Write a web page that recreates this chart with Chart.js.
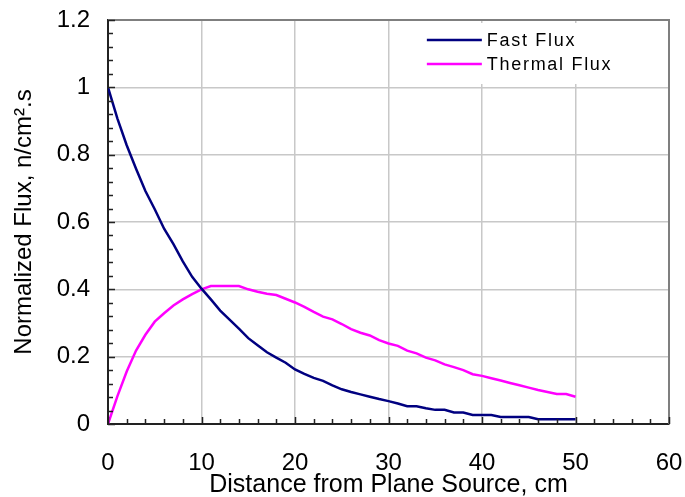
<!DOCTYPE html>
<html><head><meta charset="utf-8">
<script src="https://cdn.jsdelivr.net/npm/chart.js@4"></script>
<style>html,body{margin:0;padding:0;background:#fff}#wrap{width:685px;height:497px;position:relative}</style>
</head><body><div id="wrap"><canvas id="c" width="685" height="497"></canvas></div>
<script>
// ---- data ----
const distanceCm = [0,1,2,3,4,5,6,7,8,9,10,11,12,13,14,15,16,17,18,19,20,21,22,23,24,25,26,27,28,29,30,31,32,33,34,35,36,37,38,39,40,41,42,43,44,45,46,47,48,49,50];
const fastFlux = [1.0,0.908,0.828,0.758,0.692,0.638,0.58,0.534,0.483,0.437,0.402,0.37,0.337,0.31,0.283,0.255,0.234,0.213,0.197,0.182,0.162,0.149,0.137,0.128,0.115,0.103,0.095,0.088,0.081,0.074,0.068,0.061,0.053,0.053,0.047,0.042,0.042,0.034,0.034,0.027,0.027,0.027,0.021,0.021,0.021,0.021,0.014,0.014,0.014,0.014,0.014];
const thermalFlux = [0,0.082,0.156,0.218,0.265,0.304,0.329,0.352,0.37,0.386,0.40,0.41,0.41,0.41,0.41,0.40,0.393,0.387,0.383,0.372,0.361,0.348,0.333,0.319,0.311,0.297,0.282,0.271,0.263,0.249,0.239,0.232,0.218,0.21,0.197,0.189,0.177,0.169,0.16,0.148,0.143,0.136,0.129,0.122,0.115,0.108,0.101,0.095,0.089,0.089,0.081];
const xTickValues = [0,10,20,30,40,50,60];
const yTickValues = [0,0.2,0.4,0.6,0.8,1.0,1.2];
const xMinorStep = 2;
const yMinorStep = 0.04;

const FONT = "'Liberation Sans', Arial, sans-serif";

const framePlugin = {
  id: 'frame',
  afterDatasetsDraw(chart) {
    const {ctx, chartArea: a, scales: {x, y}} = chart;
    ctx.save();
    // top & right frame
    ctx.strokeStyle = '#7f7f7f';
    ctx.lineWidth = 2;
    ctx.beginPath();
    ctx.moveTo(a.left, a.top); ctx.lineTo(a.right, a.top); ctx.lineTo(a.right, a.bottom);
    ctx.stroke();
    // inner ticks
    ctx.strokeStyle = '#222';
    ctx.lineWidth = 1.5;
    ctx.beginPath();
    for (let v = x.min; v <= x.max + 1e-9; v += xMinorStep) {
      const px = Math.round(x.getPixelForValue(v)) + 0.5;
      const major = xTickValues.some(t => Math.abs(t - v) < 1e-9);
      ctx.moveTo(px, a.bottom); ctx.lineTo(px, a.bottom - (major ? 7 : 5));
    }
    for (let v = y.min; v <= y.max + 1e-9; v += yMinorStep) {
      const py = Math.round(y.getPixelForValue(v)) + 0.5;
      const major = yTickValues.some(t => Math.abs(t - v) < 1e-9);
      ctx.moveTo(a.left, py); ctx.lineTo(a.left + (major ? 7 : 5), py);
    }
    ctx.stroke();
    // legend
    const bx = x.getPixelForValue(31), by = a.top + 3;
    ctx.fillStyle = '#fff';
    ctx.fillRect(bx, by, a.right - 2 - bx, 61);
    ctx.font = '18px ' + FONT;
    ctx.textBaseline = 'middle';
    ctx.letterSpacing = '1.7px';
    chart.data.datasets.forEach((ds, i) => {
      const ly = by + 17 + i * 24;
      ctx.strokeStyle = ds.borderColor;
      ctx.lineWidth = 2.5;
      ctx.beginPath(); ctx.moveTo(bx + 29, ly); ctx.lineTo(bx + 84, ly); ctx.stroke();
      ctx.fillStyle = '#000';
      ctx.fillText(ds.label, bx + 89, ly + 1);
    });
    ctx.restore();
  }
};

new Chart(document.getElementById('c'), {
  type: 'line',
  data: {
    datasets: [
      { label: 'Fast Flux', data: distanceCm.map((d, i) => ({x: d, y: fastFlux[i]})),
        borderColor: '#000080', borderWidth: 2.5, pointRadius: 0, tension: 0, fill: false },
      { label: 'Thermal Flux', data: distanceCm.map((d, i) => ({x: d, y: thermalFlux[i]})),
        borderColor: '#ff00ff', borderWidth: 2.5, pointRadius: 0, tension: 0, fill: false }
    ]
  },
  options: {
    responsive: false,
    animation: false,
    layout: { padding: { top: 20, right: 16, left: 0, bottom: 0 } },
    plugins: { legend: { display: false }, tooltip: { enabled: false } },
    scales: {
      x: {
        type: 'linear', min: 0, max: 60,
        afterBuildTicks: s => { s.ticks = xTickValues.map(v => ({value: v})); },
        afterFit: s => { s.height = 73; s.paddingLeft = 0; s.paddingRight = 0; },
        ticks: { color: '#000', font: { family: FONT, size: 24 }, padding: 25, maxRotation: 0 },
        grid: { color: '#c8c8c8', lineWidth: 1.5, drawTicks: false },
        border: { display: true, color: '#222', width: 2 },
        title: { display: true, text: 'Distance from Plane Source, cm', color: '#000',
                 font: { family: FONT, size: 25 }, padding: { top: 0, bottom: -3 } }
      },
      y: {
        type: 'linear', min: 0, max: 1.2,
        afterBuildTicks: s => { s.ticks = yTickValues.map(v => ({value: v})); },
        afterFit: s => { s.width = 108; s.paddingTop = 0; s.paddingBottom = 0; },
        ticks: { color: '#000', font: { family: FONT, size: 24 }, padding: 18,
                 callback: v => String(Math.round(v * 10) / 10) },
        grid: { color: '#c8c8c8', lineWidth: 1.5, drawTicks: false },
        border: { display: true, color: '#222', width: 2 },
        title: { display: true, text: 'Normalized Flux, n/cm².s', color: '#000',
                 font: { family: FONT, size: 24 }, padding: { top: 10, bottom: 0 } }
      }
    }
  },
  plugins: [framePlugin]
});
</script></body></html>
